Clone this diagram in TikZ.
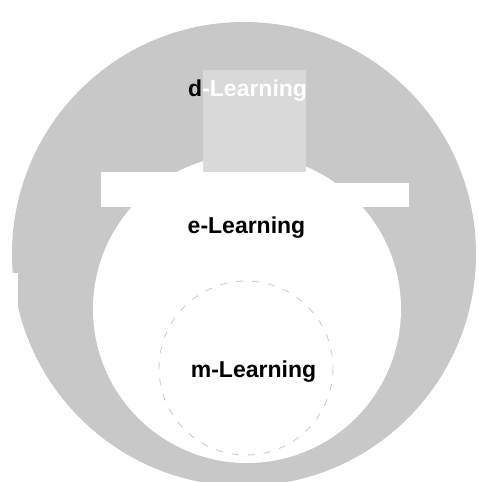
\documentclass[tikz,border=0pt]{standalone}
\usepackage{fontspec}
\setmainfont{Liberation Sans}
\definecolor{ringgray}{RGB}{200,200,200}
\definecolor{boxgray}{RGB}{217,217,217}
\definecolor{dashgray}{RGB}{205,205,205}
\begin{document}
\begin{tikzpicture}[x=1pt,y=-1pt,
  lbl/.style={font=\fontsize{23}{27}\selectfont\bfseries, inner sep=0pt},
  ring/.style={fill=ringgray, draw=none},
  inner/.style={fill=white, draw=none},
  mcircle/.style={draw=dashgray, line width=0.9pt, dash pattern=on 7pt off 9pt}]
\useasboundingbox (0,0) rectangle (479,482);
\fill[white] (0,0) rectangle (479,482);
% d-Learning ring
\fill[ring] (244,254) circle[radius=232];
% e-Learning circle
\fill[inner] (247,309) circle[radius=154];
% m-Learning circle
\draw[mcircle] (246,368) circle[radius=87];
% scan artefacts
\fill[boxgray] (203,70) rectangle (306,172);
\fill[white] (101,172) rectangle (306,207);
\fill[white] (306,183) rectangle (409,207);
\fill[white] (0,273) rectangle (18,482);
% labels
\node[lbl, anchor=base west] (dl) at (188,96) {d\textcolor{white}{-Learning}};
\node[lbl, anchor=base] (el) at (246.5,233) {e-Learning};
\node[lbl, anchor=base] (ml) at (253.5,377) {m-Learning};
\end{tikzpicture}
\end{document}
